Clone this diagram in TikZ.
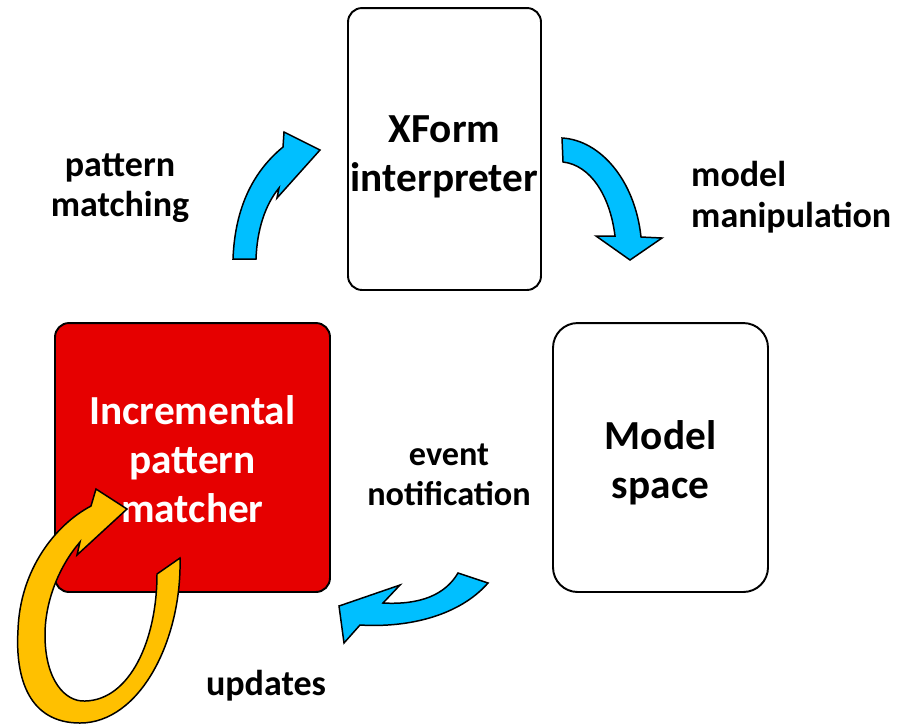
\documentclass[tikz,border=0pt]{standalone}
\usepackage{fontspec}
\setmainfont{Carlito}
\definecolor{arrowblue}{HTML}{00BFFF}
\definecolor{loopyellow}{HTML}{FFC000}
\definecolor{matcherred}{HTML}{E60000}

\begin{document}
\begin{tikzpicture}[
    x=0.02cm,y=-0.02cm,
    every node/.style={font=\bfseries},
    boxnode/.style={
        rounded corners=#1,
        draw=black,
        line width=1.1pt,
        fill=white,
    },
    boxtext/.style={align=center,font=\fontsize{23.5}{28}\selectfont\bfseries},
    label/.style={font=\fontsize{20.5}{23}\selectfont\bfseries},
    blockarrow/.style={draw=black,line width=0.85pt,fill=#1,line join=miter},
]
\useasboundingbox (0,0) rectangle (908,725);

% === Boxes ===
\node[boxnode=8pt,minimum width=3.86cm,minimum height=5.64cm] (xform) at (444.5,149) {};
\node[boxtext] (xformtext) at (444.5,157) {XForm\\interpreter};
\node[boxnode=8pt,fill=matcherred,minimum width=5.5cm,minimum height=5.38cm] (matcher) at (192.5,457.5) {};
\node[boxtext,text=white] (matchertext) at (192.5,459) {Incremental\\pattern\\matcher};
\node[boxnode=14pt,minimum width=4.3cm,minimum height=5.38cm] (model) at (660.5,457.5) {};
\node[boxtext] (modeltext) at (660.5,463) {Model\\space};

% === Labels ===
\node[label,align=center] (lmatch) at (120,188) {pattern\\matching};
\node[label,align=left,anchor=west] (lmanip) at (685,197) {model\\manipulation};
\node[label,align=center,font=\fontsize{19.5}{23}\selectfont\bfseries] (levent) at (449,475) {event\\notification};
\node[label] (lupd) at (266,686) {updates};

% === Blue arrows ===
\draw[blockarrow=arrowblue]
    (233,259) .. controls (235,205) and (255,170) .. (283,147) -- (284,132) -- (320,150)
    -- (277,198) -- (279,188) .. controls (265,205) and (257,230) .. (256,259) -- cycle;
\draw[blockarrow=arrowblue]
    (562,138) .. controls (600,140) and (635,180) .. (641,237) -- (662,238) -- (630,260)
    -- (596,236) -- (615,236) .. controls (610,195) and (590,165) .. (563,162) -- cycle;
\draw[blockarrow=arrowblue]
    (458,573) -- (488,583) .. controls (460,615) and (410,628) .. (360,625) -- (344,643)
    -- (339,606) -- (400,585) -- (383,603) .. controls (420,605) and (445,595) .. (458,573) -- cycle;

% === Update loop ===
\draw[blockarrow=loopyellow]
    (180,558) .. controls (182,640) and (140,723) .. (80,723)
    .. controls (30,723) and (15,680) .. (18,630)
    .. controls (20,570) and (55,525) .. (91,506) -- (96,489) -- (127,509)
    -- (77,555) -- (80,542) .. controls (60,565) and (45,600) .. (45,635)
    .. controls (45,680) and (65,702) .. (85,701)
    .. controls (130,700) and (157,640) .. (157,574) -- cycle;

\end{tikzpicture}
\end{document}
